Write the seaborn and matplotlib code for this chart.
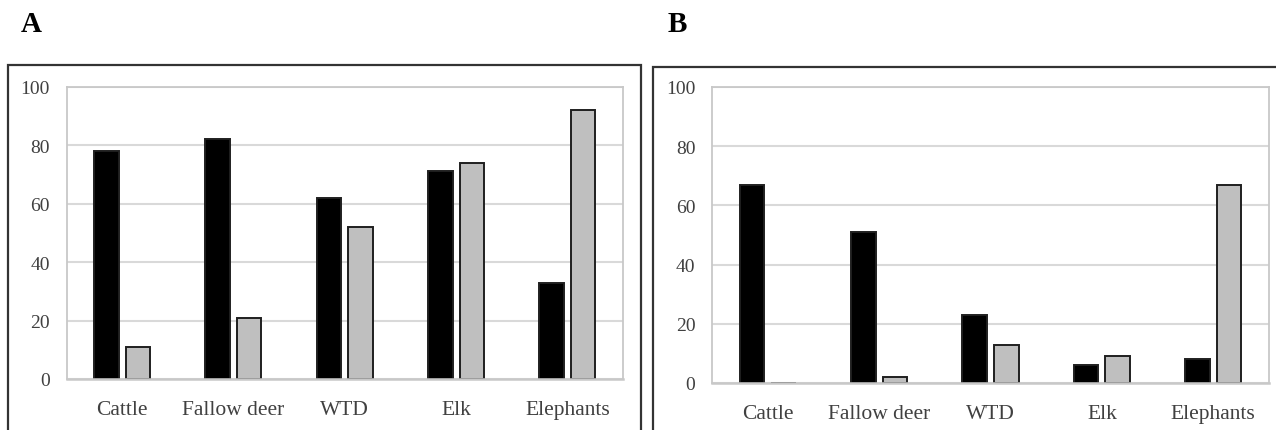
import matplotlib
matplotlib.use("Agg")
import matplotlib.pyplot as plt
from matplotlib.patches import Rectangle
import seaborn as sns
import pandas as pd

categories = ["Cattle", "Fallow deer", "WTD", "Elk", "Elephants"]
series_names = ["Series 1", "Series 2"]
a_series1 = [78, 82, 62, 71, 33]
a_series2 = [11, 21, 52, 74, 92]
b_series1 = [67, 51, 23, 6, 8]
b_series2 = [0, 2, 13, 9, 67]
y_ticks = [0, 20, 40, 60, 80, 100]
panel_labels = ["A", "B"]

sns.set_theme(style="white")
plt.rcParams["font.family"] = ["Liberation Serif", "DejaVu Serif"]

fig = plt.figure(figsize=(12.76, 4.31), dpi=100)
W, H = 1276, 431

def build_df(s1, s2):
    return pd.DataFrame({
        "category": categories * 2,
        "series": [series_names[0]] * len(categories) + [series_names[1]] * len(categories),
        "value": list(s1) + list(s2),
    })

panels = [
    (build_df(a_series1, a_series2), (66.5, 380, 623, 87.7)),
    (build_df(b_series1, b_series2), (712, 384, 1269, 88)),
]

palette = {series_names[0]: "#000000", series_names[1]: "#bfbfbf"}

for (df, (x0, yb, x1, yt)) in panels:
    ax = fig.add_axes([x0 / W, 1 - yb / H, (x1 - x0) / W, (yb - yt) / H])
    sns.barplot(data=df, x="category", y="value", hue="series", palette=palette,
                order=categories, hue_order=series_names, width=0.566, gap=0.22,
                edgecolor="#1f1f1f", linewidth=1.4, legend=False, ax=ax, zorder=3)
    ax.set_ylim(0, 100)
    ax.set_yticks(y_ticks)
    ax.set_xlim(-0.5, len(categories) - 0.5)
    ax.yaxis.grid(True, color="#d9d9d9", linewidth=1.5, zorder=0)
    ax.set_axisbelow(True)
    ax.set_xlabel("")
    ax.set_ylabel("")
    for s in ax.spines.values():
        s.set_color("#c8c8c8")
        s.set_linewidth(1.3)
    ax.spines["bottom"].set_zorder(5)
    ax.spines["bottom"].set_linewidth(1.8)
    ax.tick_params(axis="y", labelsize=14, colors="#404040", pad=12, length=0)
    ax.tick_params(axis="x", labelsize=15.5, colors="#404040", pad=15, length=0)

# outer panel boxes
fig.patches.append(Rectangle((8 / W, -0.2), (641 - 8) / W, 1.2 - 66 / H,
                             transform=fig.transFigure, fill=False,
                             edgecolor="#333333", linewidth=1.6, clip_on=False))
fig.patches.append(Rectangle((653 / W, -0.2), 1.2, 1.2 - 68 / H,
                             transform=fig.transFigure, fill=False,
                             edgecolor="#333333", linewidth=1.6, clip_on=False))

fig.text(21 / W, 1 - 24 / H, panel_labels[0], fontsize=21, fontweight="bold",
         va="center", ha="left", color="#000000")
fig.text(668 / W, 1 - 24 / H, panel_labels[1], fontsize=21, fontweight="bold",
         va="center", ha="left", color="#000000")

fig.savefig("out.png", dpi=100)
